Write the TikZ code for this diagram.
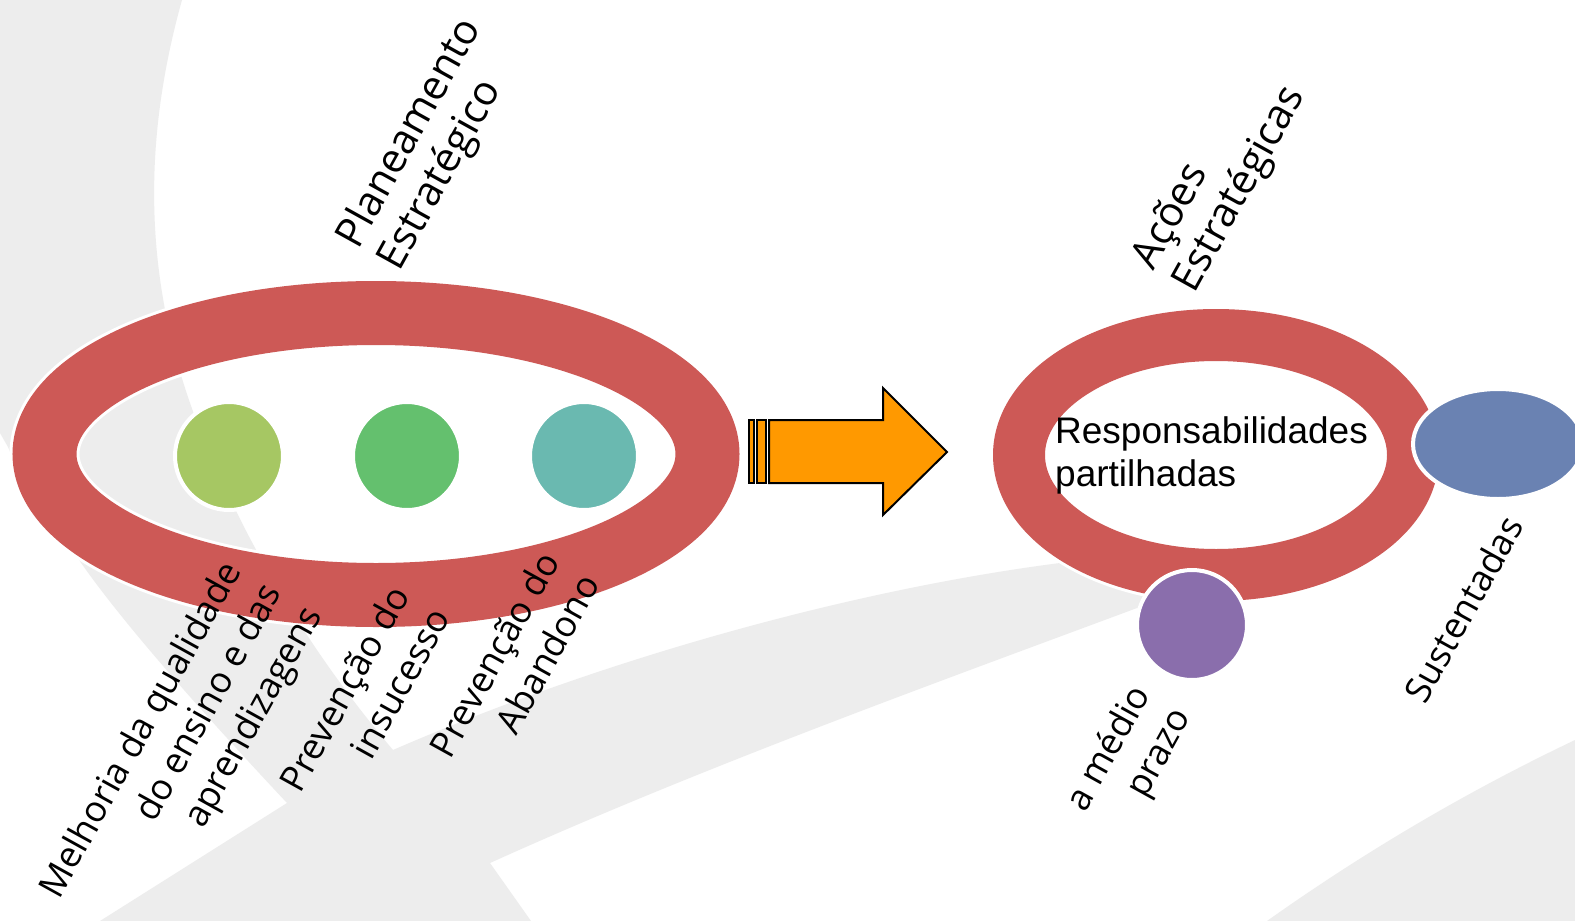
\documentclass[tikz,border=0pt]{standalone}
\usepackage{fontspec}
\setmainfont{Open Sans}
\newfontfamily\arialfont{Liberation Sans}
\usetikzlibrary{shapes.geometric}

\definecolor{bgGray}{RGB}{237,237,237}
\definecolor{ringRed}{RGB}{205,89,86}
\definecolor{limeDot}{RGB}{166,199,99}
\definecolor{greenDot}{RGB}{100,192,110}
\definecolor{tealDot}{RGB}{106,185,176}
\definecolor{blueDot}{RGB}{106,130,178}
\definecolor{violetDot}{RGB}{138,110,172}
\definecolor{arrowOrange}{RGB}{255,153,0}

\begin{document}
\begin{tikzpicture}[x=1pt,y=-1pt,
  ring/.style={ellipse,draw=white,double=ringRed,line width=3pt,inner sep=0pt},
  dot/.style={circle,fill=#1,draw=white,line width=4pt,minimum size=108pt,inner sep=0pt},
  lblR/.style={rotate=61,anchor=north east,align=right,inner sep=0pt,font=\fontsize{36}{46}\selectfont},
  lblL/.style={rotate=61,anchor=north west,align=left,inner sep=0pt,font=\fontsize{41}{47}\selectfont}]
\useasboundingbox (0,0) rectangle (1575,921);
\clip (0,0) rectangle (1575,921);
\fill[white] (0,0) rectangle (1575,921);

% background swoosh
\fill[bgGray] (0,0) -- (182,0) .. controls (140,150) and (145,290) .. (200,430)
  .. controls (240,530) and (300,640) .. (393,750)
  .. controls (600,660) and (850,590) .. (1060,563) -- (1160,550) -- (1160,615) -- (1137,608)
  .. controls (930,685) and (700,768) .. (490,863) -- (531,921) -- (100,921) -- (287,803)
  .. controls (200,710) and (120,620) .. (77,557) -- (30,500) -- (8,447) -- (0,433) -- cycle;
\fill[bgGray] (1267,921) .. controls (1367,850) and (1470,790) .. (1575,740) -- (1575,921) -- cycle;

% left group
\node [ring,double distance=64pt,minimum width=663pt,minimum height=282pt] (planRing) at(376,454){};
\node [dot=limeDot] (qualidade) at(229,456){};
\node [dot=greenDot] (insucessoDot) at(407,456){};
\node [dot=tealDot] (abandonoDot) at(584,456){};

\node [lblL] (planTitle) at(331,235){Planeamento\\Estratégico};
\node [lblR] (melhoria) at(218,557){Melhoria da qualidade\\do ensino e das\\aprendizagens};
\node [lblR] (insucesso) at(387,582){Prevenção do\\insucesso};
\node [lblR] (abandono) at(537,548){Prevenção do\\Abandono};

% arrow
\filldraw[fill=arrowOrange,draw=black,line width=2pt] (749,420) rectangle (754,483);
\filldraw[fill=arrowOrange,draw=black,line width=2pt] (757,420) rectangle (766,483);
\filldraw[fill=arrowOrange,draw=black,line width=2pt,line join=miter]
  (769,420) -- (883,420) -- (883,388) -- (947,452) -- (883,515) -- (883,483) -- (769,483) -- cycle;

% right group
\node [ring,double distance=52pt,minimum width=394pt,minimum height=240pt] (acoesRing) at(1216,455){};
\node [dot=violetDot,minimum size=110pt] (medioDot) at(1192,625){};
\node [ellipse,fill=blueDot,draw=white,line width=4pt,minimum width=170pt,minimum height=110pt,inner sep=0pt] (sustentDot) at(1498,444){};

\node [anchor=north west,align=left,inner sep=0pt,font=\arialfont\fontsize{37}{43}\selectfont] (resp) at(1055,416){Responsabilidades\\partilhadas};
\node [lblL] (acoesTitle) at(1127,257){Ações\\Estratégicas};
\node [lblR] (medio) at(1127,681){a médio\\prazo};
\node [lblR] (sustent) at(1501,512){Sustentadas};
\end{tikzpicture}
\end{document}
